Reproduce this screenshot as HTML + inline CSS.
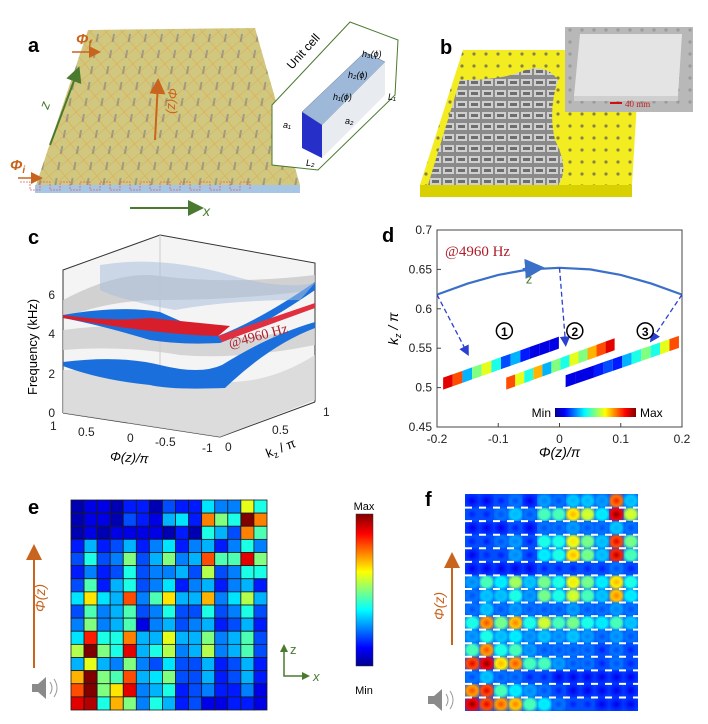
<!DOCTYPE html>
<html><head><meta charset="utf-8">
<style>
body{margin:0;background:#fff;}
svg{display:block;font-family:"Liberation Sans",sans-serif;}
.lbl{font-weight:bold;font-size:20px;fill:#000;}
.tk{font-size:12px;fill:#222;}
</style></head>
<body>
<svg id="fig" width="708" height="724" viewBox="0 0 708 724" xmlns="http://www.w3.org/2000/svg">
<defs>
<linearGradient id="jetH" x1="0" x2="1" y1="0" y2="0">
<stop offset="0" stop-color="#00008f"/><stop offset="0.12" stop-color="#0000ff"/><stop offset="0.37" stop-color="#00ffff"/><stop offset="0.62" stop-color="#ffff00"/><stop offset="0.87" stop-color="#ff0000"/><stop offset="1" stop-color="#800000"/>
</linearGradient>
<linearGradient id="jetV" x1="0" x2="0" y1="1" y2="0">
<stop offset="0" stop-color="#00008f"/><stop offset="0.12" stop-color="#0000ff"/><stop offset="0.37" stop-color="#00ffff"/><stop offset="0.62" stop-color="#ffff00"/><stop offset="0.87" stop-color="#ff0000"/><stop offset="1" stop-color="#800000"/>
</linearGradient>
<pattern id="holes" width="12" height="12" patternUnits="userSpaceOnUse"><circle cx="6" cy="6" r="1.6" fill="#555"/></pattern>
<pattern id="grid" width="13" height="11" patternUnits="userSpaceOnUse"><rect width="13" height="11" fill="#8a8a8a"/><rect x="1" y="2" width="11" height="7" fill="#cfcfcf"/><rect x="3" y="4" width="7" height="3" fill="#6d6d6d"/></pattern>
<pattern id="agrid" width="16" height="16" patternUnits="userSpaceOnUse" patternTransform="skewX(-10)"><path d="M0 0 L16 16 M16 0 L0 16" stroke="#e3a24a" stroke-width="0.7" opacity="0.7"/><rect x="7" y="2" width="2" height="8" fill="#7a7f8a" opacity="0.6"/></pattern>
<marker id="arO" markerWidth="8" markerHeight="8" refX="6" refY="4" orient="auto"><path d="M0 0 L8 4 L0 8z" fill="#c8641e"/></marker>
<marker id="arG" markerWidth="8" markerHeight="8" refX="6" refY="4" orient="auto"><path d="M0 0 L8 4 L0 8z" fill="#4a7a2e"/></marker>
<marker id="arB" markerWidth="8" markerHeight="8" refX="6" refY="4" orient="auto"><path d="M0 0 L8 4 L0 8z" fill="#2b3fd1"/></marker>
<marker id="arL" markerWidth="10" markerHeight="10" refX="5" refY="5" orient="auto"><path d="M0 0 L10 5 L0 10z" fill="#3a70c8"/></marker>
</defs>

<!-- ===== Panel a ===== -->
<g>
<text class="lbl" x="28" y="52">a</text>
<polygon points="88,30 255,28 300,185 35,188" fill="#c9be6a" opacity="0.85"/>
<polygon points="88,30 255,28 300,185 35,188" fill="url(#agrid)"/>
<rect x="35" y="185" width="265" height="8" fill="#a7c6e6"/>
<path d="M20 182 h10 v8 h10 v-8 h10 v8 h10 v-8 h10 v8 h10 v-8 h10 v8 h10 v-8 h10 v8 h10 v-8 h10 v8 h10 v-8 h10 v8 h10 v-8 h10 v8 h10 v-8 h10 v8 h10 v-8 h10 v8 h10 v-8 h10 v8 h10 v-8 h10 v8" fill="none" stroke="#e06060" stroke-width="0.8" stroke-dasharray="2,1"/>
<line x1="18" y1="178" x2="40" y2="178" stroke="#c8641e" stroke-width="1.5" marker-end="url(#arO)"/>
<text x="10" y="170" font-size="15" font-style="italic" font-weight="bold" fill="#c8641e">Φ<tspan font-size="10" dy="3">i</tspan></text>
<line x1="72" y1="52" x2="98" y2="52" stroke="#c8641e" stroke-width="1.5" marker-end="url(#arO)"/>
<text x="76" y="44" font-size="15" font-style="italic" font-weight="bold" fill="#c8641e">Φ<tspan font-size="10" dy="3">f</tspan></text>
<line x1="155" y1="140" x2="158" y2="82" stroke="#c8641e" stroke-width="2" marker-end="url(#arO)"/>
<text x="0" y="0" font-size="13" font-style="italic" fill="#c8641e" transform="translate(168,88) rotate(90)">Φ(z)</text>
<line x1="50" y1="145" x2="78" y2="70" stroke="#4a7a2e" stroke-width="2" marker-end="url(#arG)"/>
<text x="0" y="0" font-size="14" font-style="italic" fill="#4a7a2e" transform="translate(48,110) rotate(-70)">z</text>
<line x1="130" y1="208" x2="200" y2="208" stroke="#4a7a2e" stroke-width="2" marker-end="url(#arG)"/>
<text x="203" y="216" font-size="14" font-style="italic" fill="#4a7a2e">x</text>
<polygon points="272,105 350,22 398,40 395,95 318,170 272,165" fill="#fff" stroke="#4a7a2e" stroke-width="1"/>
<text x="0" y="0" font-size="12" transform="translate(292,70) rotate(-48)">Unit cell</text>
<polygon points="302,112 365,52 385,62 322,125" fill="#9db8d8" stroke="#678" stroke-width="0.5"/>
<polygon points="302,112 322,125 322,158 302,148" fill="#2630c8"/>
<polygon points="322,125 385,62 385,95 322,158" fill="#e8ecf0"/>
<text x="333" y="100" font-size="9" font-style="italic">h₁(ϕ)</text>
<text x="348" y="78" font-size="9" font-style="italic">h₂(ϕ)</text>
<text x="362" y="57" font-size="9" font-style="italic">h₃(ϕ)</text>
<text x="283" y="128" font-size="9" font-style="italic">a₁</text>
<text x="345" y="124" font-size="9" font-style="italic">a₂</text>
<text x="306" y="166" font-size="9" font-style="italic">L₂</text>
<text x="388" y="100" font-size="9" font-style="italic">L₁</text>
</g>

<!-- ===== Panel b ===== -->
<g>
<text class="lbl" x="440" y="54">b</text>
<polygon points="420,185 632,185 632,197 420,197" fill="#d9d000"/>
<polygon points="463,50 640,50 632,185 420,185" fill="#f2ec20"/>
<polygon points="463,50 640,50 632,185 420,185" fill="url(#holes)" opacity="0.7"/>
<path d="M460,80 Q500,80 520,72 Q545,62 558,80 Q548,110 555,140 Q570,170 558,185 L428,185 Z" fill="url(#grid)"/>
<rect x="565" y="27" width="128" height="85" fill="#b8b8b8"/>
<rect x="565" y="27" width="128" height="85" fill="url(#holes)" opacity="0.3"/>
<polygon points="580,34 682,34 678,96 574,96" fill="#e4e4e4"/>
<polygon points="574,96 678,96 678,101 574,101" fill="#cfcfcf"/>
<line x1="610" y1="103" x2="622" y2="103" stroke="#d01010" stroke-width="2"/>
<text x="625" y="107" font-size="9" font-family="Liberation Serif" fill="#c02020">40 mm</text>
</g>

<!-- ===== Panel c ===== -->
<g>
<text class="lbl" x="28" y="244">c</text>
<polygon points="63,270 160,235 315,263 315,402 220,437 63,413" fill="#f4f4f4"/>
<polyline points="63,413 63,270 160,235 315,263 315,402" fill="none" stroke="#333" stroke-width="1"/>
<line x1="160" y1="235" x2="160" y2="380" stroke="#ccc"/>
<polyline points="63,413 220,437 315,402" fill="none" stroke="#333"/>
<path d="M63,300 Q120,270 160,276 Q230,285 315,275 L315,290 Q240,300 160,300 Q110,300 63,318Z" fill="#c8c8c8" opacity="0.8"/>
<path d="M63,330 Q140,320 180,335 Q240,345 315,325 L315,345 Q240,360 180,355 Q120,345 63,350Z" fill="#cdcdcd" opacity="0.8"/>
<path d="M63,370 Q140,370 200,380 Q260,390 315,355 L315,400 L220,437 L63,413Z" fill="#d6d6d6" opacity="0.8"/>
<path d="M63,315 Q120,305 160,312 Q200,330 218,336 Q260,320 315,282 L315,290 Q260,328 220,343 Q180,345 150,340 Q100,325 63,318Z" fill="#1a6fdc"/>
<path d="M63,315 Q110,322 150,318 L230,326 L218,336 Q160,335 63,318Z" fill="#d81e2a"/>
<path d="M218,336 L315,303 L315,308 L222,342Z" fill="#e03040"/>
<path d="M100,265 Q160,255 230,275 Q280,290 315,283 L300,300 Q230,300 175,310 Q120,300 100,290Z" fill="#a9bfdc" opacity="0.55"/>
<path d="M63,362 Q120,355 160,365 Q200,375 222,365 Q270,335 315,322 L315,328 Q270,345 225,388 Q170,390 150,385 Q100,380 63,366Z" fill="#1a6fdc"/>
<text x="0" y="0" font-size="14" font-family="Liberation Serif" fill="#b01c28" transform="translate(230,348) rotate(-15)">@4960 Hz</text>
<g class="tk">
<text x="55" y="299" text-anchor="end">6</text><text x="55" y="338" text-anchor="end">4</text><text x="55" y="378" text-anchor="end">2</text><text x="55" y="417" text-anchor="end">0</text>
<text x="50" y="430">1</text><text x="78" y="436">0.5</text><text x="127" y="442">0</text><text x="155" y="446">-0.5</text><text x="202" y="452">-1</text>
<text x="225" y="451">0</text><text x="272" y="434">0.5</text><text x="323" y="416">1</text>
</g>
<text x="0" y="0" font-size="13" transform="translate(37,395) rotate(-90)">Frequency (kHz)</text>
<text x="110" y="462" font-size="13" font-style="italic" transform="rotate(4 130 458)">Φ(z)/π</text>
<text x="0" y="0" font-size="13" transform="translate(268,458) rotate(-22)">k<tspan font-size="9" dy="3">z</tspan><tspan dy="-3"> / π</tspan></text>
</g>

<!-- ===== Panel d ===== -->
<g id="pd">
<text class="lbl" x="382" y="242">d</text>
</g>

<!-- ===== Panel e ===== -->
<g id="pe">
<text class="lbl" x="28" y="514">e</text>
<line x1="34" y1="668" x2="34" y2="548" stroke="#c8641e" stroke-width="2" marker-end="url(#arO)"/>
<text x="0" y="0" font-size="14" font-style="italic" fill="#c8641e" transform="translate(45,612) rotate(-90)">Φ(z)</text>
<rect x="356" y="514" width="17" height="152" fill="url(#jetV)" stroke="#333" stroke-width="0.5"/>
<text x="364" y="510" font-size="11" text-anchor="middle">Max</text>
<text x="364" y="694" font-size="11" text-anchor="middle">Min</text>
<polyline points="284,648 284,676 306,676" fill="none" stroke="#4a7a2e" stroke-width="1.5"/>
<path d="M280,652 L284,644 L288,652Z M302,672 L310,676 L302,680Z" fill="#4a7a2e"/>
<text x="290" y="654" font-size="13" fill="#4a7a2e">z</text>
<text x="313" y="681" font-size="13" font-style="italic" fill="#4a7a2e">x</text>
<g><path d="M32,684 h6 l8,-7 v22 l-8,-7 h-6z" fill="#8a8a8a"/><path d="M50,682 q4,6 0,12 M54,679 q6,9 0,18" fill="none" stroke="#999"/></g>
</g>

<!-- ===== Panel f ===== -->
<g id="pf">
<text class="lbl" x="425" y="506">f</text>
<line x1="452" y1="645" x2="452" y2="556" stroke="#c8641e" stroke-width="2" marker-end="url(#arO)"/>
<text x="0" y="0" font-size="14" font-style="italic" fill="#c8641e" transform="translate(444,620) rotate(-90)">Φ(z)</text>
<g><path d="M428,696 h6 l8,-7 v22 l-8,-7 h-6z" fill="#8a8a8a"/><path d="M446,694 q4,6 0,12 M450,691 q6,9 0,18" fill="none" stroke="#999"/></g>
</g>
</svg>

<script>
// ---------- Panel d data ----------
const dPhi = [-0.2,-0.15,-0.1,-0.05,0,0.05,0.1,0.15,0.2];
const dKz  = [0.618,0.632,0.643,0.650,0.652,0.650,0.643,0.632,0.618];
const dXTicks = [-0.2,-0.1,0,0.1,0.2];
const dYTicks = [0.45,0.5,0.55,0.6,0.65,0.7];
const dXTickLabels = ["-0.2","-0.1","0","0.1","0.2"];
const dYTickLabels = ["0.45","0.5","0.55","0.6","0.65","0.7"];

// ---------- Panel e data (rows top->bottom, 0..1) ----------
const eRows = [
[.05,.1,.1,.05,.15,.15,.05,.2,.15,.15,.35,.25,.25,.6,.4],
[.05,.1,.1,.05,.2,.15,.1,.3,.35,.15,.75,.5,.4,1,.75],
[.05,.1,.05,.1,.1,.1,.1,.05,.15,.05,.4,.3,.2,.75,.45],
[.15,.3,.15,.2,.3,.15,.25,.35,.15,.25,.3,.15,.25,.4,.25],
[.2,.4,.2,.25,.5,.2,.3,.5,.25,.3,.8,.45,.45,.9,.5],
[.15,.25,.15,.2,.4,.2,.25,.25,.3,.2,.55,.2,.25,.4,.4],
[.2,.45,.15,.3,.4,.2,.25,.35,.15,.25,.3,.15,.25,.3,.15],
[.35,.65,.35,.3,.8,.25,.45,.65,.3,.3,.7,.25,.35,.55,.3],
[.2,.45,.25,.3,.45,.2,.25,.4,.2,.2,.4,.2,.25,.4,.2],
[.25,.5,.25,.3,.45,.1,.25,.3,.2,.25,.3,.15,.2,.3,.15],
[.35,.85,.4,.4,.75,.3,.3,.6,.3,.3,.5,.25,.3,.45,.2],
[.55,1,.5,.4,.9,.3,.4,.55,.25,.3,.55,.25,.3,.45,.2],
[.3,.6,.3,.25,.5,.25,.2,.35,.2,.2,.3,.15,.2,.3,.15],
[.7,1,.5,.45,.8,.3,.35,.5,.2,.2,.3,.15,.2,.3,.15],
[.8,1,.5,.65,.9,.25,.3,.4,.15,.2,.25,.15,.15,.25,.1],
[.9,.95,.4,.7,.5,.25,.4,.3,.15,.2,.1,.1,.15,.15,.1]
];

// ---------- Panel f data (rows top->bottom, 0..1) ----------
const fRows = [
[.1,.1,.15,.2,.1,.25,.2,.3,.3,.25,.85,.3],
[.15,.15,.2,.3,.2,.45,.45,.7,.6,.35,1,.6],
[.1,.1,.1,.15,.1,.2,.2,.25,.2,.2,.3,.2],
[.15,.15,.2,.25,.15,.4,.4,.65,.5,.3,.9,.5],
[.1,.15,.15,.25,.15,.35,.4,.7,.5,.3,.95,.45],
[.1,.1,.1,.1,.1,.15,.15,.15,.15,.15,.2,.15],
[.25,.45,.35,.55,.3,.5,.4,.65,.5,.35,.7,.4],
[.2,.3,.3,.4,.25,.5,.4,.6,.45,.3,.75,.35],
[.2,.3,.2,.25,.2,.2,.2,.25,.2,.2,.25,.2],
[.4,.8,.5,.75,.4,.6,.45,.5,.4,.35,.45,.3],
[.25,.4,.3,.35,.25,.3,.25,.3,.25,.2,.25,.2],
[.45,.8,.4,.45,.25,.2,.2,.2,.2,.15,.2,.15],
[.9,1,.7,.8,.45,.45,.25,.2,.2,.15,.2,.15],
[.2,.3,.2,.2,.15,.15,.1,.1,.1,.1,.1,.1],
[.8,.9,.45,.35,.25,.2,.15,.1,.1,.1,.1,.1],
[1,.9,.8,.75,.45,.35,.2,.15,.15,.1,.1,.1]
];

const NS="http://www.w3.org/2000/svg";
function jet(v){
  v=Math.max(0,Math.min(1,v));
  const f=(x)=>Math.max(0,Math.min(1,x));
  const r=f(1.5-Math.abs(4*v-3)), g=f(1.5-Math.abs(4*v-2)), b=f(1.5-Math.abs(4*v-1));
  return `rgb(${Math.round(r*255)},${Math.round(g*255)},${Math.round(b*255)})`;
}
function mk(tag,attrs,parent){const e=document.createElementNS(NS,tag);for(const k in attrs)e.setAttribute(k,attrs[k]);parent.appendChild(e);return e;}

// ===== Panel d =====
(function(){
  const g=document.getElementById('pd');
  const x0=437,x1=682,y0=427,y1=230;
  const sx=v=>x0+(v-(-0.2))/(0.4)*(x1-x0);
  const sy=v=>y0-(v-0.45)/(0.25)*(y0-y1);
  const fr=mk('rect',{x:x0,y:y1,width:x1-x0,height:y0-y1,fill:'#fff',stroke:'#444','stroke-width':1},g);
  
  
  dXTicks.forEach((t,i)=>{
    mk('line',{x1:sx(t),x2:sx(t),y1:y0,y2:y0-4,stroke:'#444'},g);
    const tx=mk('text',{x:sx(t),y:y0+16,'text-anchor':'middle','font-size':12,fill:'#222'},g);
    tx.textContent=dXTickLabels[i];
    
    
  });
  dYTicks.forEach((t,i)=>{
    mk('line',{x1:x0,x2:x0+4,y1:sy(t),y2:sy(t),stroke:'#444'},g);
    const tx=mk('text',{x:x0-5,y:sy(t)+4,'text-anchor':'end','font-size':12,fill:'#222'},g);
    tx.textContent=dYTickLabels[i];
    
    
  });
  const pts=dPhi.map((p,i)=>sx(p)+','+sy(dKz[i])).join(' ');
  const pl=mk('polyline',{points:pts,fill:'none',stroke:'#3a70c8','stroke-width':2.2},g);
  
  
  const a=mk('line',{x1:sx(-0.06),y1:sy(0.6505),x2:sx(-0.04),y2:sy(0.6515),stroke:'#3a70c8','stroke-width':2,'marker-end':'url(#arL)'},g);
  
  
  const z=mk('text',{x:sx(-0.055),y:sy(0.632),'font-size':13,fill:'#4a7a2e'},g); z.textContent='z';
  
  
  const at=mk('text',{x:x0+8,y:y1+26,'font-size':15,'font-family':'Liberation Serif',fill:'#b01c28'},g); at.textContent='@4960 Hz';
  
  
  [[-0.2,0.618,-0.15,0.543],[0,0.652,0.01,0.555],[0.2,0.618,0.15,0.56]].forEach(q=>{
    const l=mk('line',{x1:sx(q[0]),y1:sy(q[1]),x2:sx(q[2]),y2:sy(q[3]),stroke:'#2b3fd1','stroke-width':1.3,'stroke-dasharray':'5,3','marker-end':'url(#arB)'},g);
    
    
  });
  const rods=[[-0.19,0.505,-0.001,0.557,[.9,.8,.3,.5,.6,.4,.2,.3,.15,.1,.1,.1]],[-0.087,0.505,0.09,0.555,[.8,.6,.4,.7,.3,.5,.4,.6,.5,.7,.8,.9]],[0.01,0.508,0.195,0.558,[.1,.1,.1,.15,.2,.15,.3,.4,.5,.4,.6,.8]]];
  rods.forEach((r,ri)=>{
    const X1=sx(r[0]),Y1=sy(r[1]),X2=sx(r[2]),Y2=sy(r[3]),n=r[4].length;
    for(let k=0;k<n;k++){
      const ax=X1+(X2-X1)*k/n,ay=Y1+(Y2-Y1)*k/n,bx=X1+(X2-X1)*(k+1)/n,by=Y1+(Y2-Y1)*(k+1)/n;
      const p=mk('polygon',{points:`${ax},${ay-6} ${bx},${by-6} ${bx},${by+6} ${ax},${ay+6}`,fill:jet(r[4][k])},g);
      
      
    }
    const cx=[sx(-0.09),sx(0.025),sx(0.14)][ri];
    const c=mk('circle',{cx:cx,cy:sy(0.572),r:8,fill:'#fff',stroke:'#000','stroke-width':1.5},g);
    
    
    const t=mk('text',{x:cx,y:sy(0.572)+5,'text-anchor':'middle','font-size':12,'font-weight':'bold'},g);
    t.textContent=String(ri+1);
    
    
  });
  const cb=mk('rect',{x:555,y:408,width:81,height:9,fill:'url(#jetH)'},g);
  
  
  const mn=mk('text',{x:551,y:417,'text-anchor':'end','font-size':12},g); mn.textContent='Min';
  
  
  const mx=mk('text',{x:640,y:417,'font-size':12},g); mx.textContent='Max';
  
  
  const yt=mk('text',{x:0,y:0,'font-size':14,'font-style':'italic',transform:'translate(398,345) rotate(-90)'},g);
  yt.innerHTML='k<tspan font-size="9" dy="3">z</tspan><tspan dy="-3"> / π</tspan>';
  
  
  const xt=mk('text',{x:(x0+x1)/2,y:457,'text-anchor':'middle','font-size':14,'font-style':'italic'},g); xt.textContent='Φ(z)/π';
  
  
})();

// ===== Panel e =====
(function(){
  const g=document.getElementById('pe');
  const X0=71,Y0=500,W=196,H=210,nr=eRows.length,nc=eRows[0].length;
  const cw=W/nc,ch=H/nr;
  eRows.forEach((row,i)=>row.forEach((v,j)=>{
    const r=mk('rect',{x:X0+j*cw,y:Y0+i*ch,width:cw,height:ch,fill:jet(v),stroke:'#1a1a1a','stroke-width':0.8},g);
    
    
  }));
})();

// ===== Panel f =====
(function(){
  const g=document.getElementById('pf');
  const X0=465,Y0=494,W=173,H=217,nr=fRows.length,nc=fRows[0].length;
  const cw=W/nc,ch=H/nr;
  mk('rect',{x:X0,y:Y0,width:W,height:H,fill:'#1440d8'},g);
  const defs=document.querySelector('defs');
  fRows.forEach((row,i)=>row.forEach((v,j)=>{
    const id='fg'+i+'_'+j;
    const rg=mk('radialGradient',{id:id,r:'0.75'},defs);
    mk('stop',{offset:'0','stop-color':jet(v)},rg);
    mk('stop',{offset:'0.45','stop-color':jet(v*0.8+0.08)},rg);
    mk('stop',{offset:'1','stop-color':jet(0.2)},rg);
    const r=mk('rect',{x:X0+j*cw,y:Y0+i*ch,width:cw,height:ch,fill:`url(#${id})`},g);
    
    
  }));
  for(let i=1;i<nr;i++){
    const l=mk('line',{x1:X0,x2:X0+W,y1:Y0+i*ch,y2:Y0+i*ch,stroke:'#fff','stroke-width':2,'stroke-dasharray':'7,7'},g);
    
    
  }
})();
</script>
</body></html>
